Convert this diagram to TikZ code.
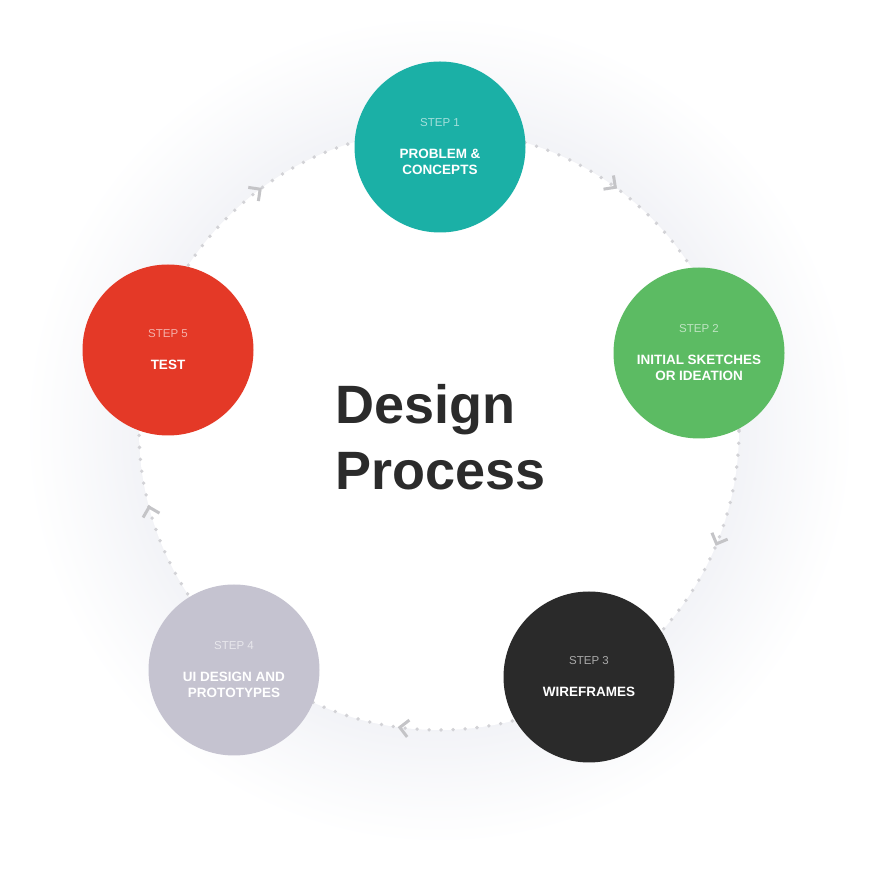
\documentclass[tikz,border=0pt]{standalone}
\usepackage{fontspec}
\setmainfont{Liberation Sans}
\usetikzlibrary{calc}

\definecolor{tealc}{RGB}{27,176,166}
\definecolor{greenc}{RGB}{92,187,99}
\definecolor{darkc}{RGB}{42,42,42}
\definecolor{lavc}{RGB}{197,195,208}
\definecolor{redc}{RGB}{228,57,39}
\definecolor{ink}{RGB}{43,43,43}
\definecolor{dotc}{RGB}{210,210,214}
\definecolor{chevc}{RGB}{196,196,199}
\definecolor{haloc}{RGB}{242,243,247}
\colorlet{haloa}{haloc!60!white}
\colorlet{halob}{haloc!25!white}

% 25bp is the edge of the shaded circle
\pgfdeclareradialshading{halo}{\pgfpoint{0bp}{0bp}}{color(0bp)=(white); color(17.8bp)=(white); color(17.9bp)=(haloc); color(20.5bp)=(haloa); color(23bp)=(halob); color(25bp)=(white); color(50bp)=(white)}

\newcommand\stepno[2]{{\fontsize{11.5}{14}\selectfont\mdseries\color{white!60!#1}STEP #2}}

\begin{document}
\begin{tikzpicture}[x=1pt,y=1pt,
    stepc/.style={circle,minimum size=171pt,inner sep=0pt,align=center,text=white,
      font=\fontsize{13.5}{16}\selectfont\bfseries},
    ring/.style={dotc,line width=3.8pt,line cap=round,dash pattern=on 0pt off 12pt},
    chev/.style={chevc,line width=3pt}]
    \useasboundingbox (0,0) rectangle (871,871);
    \fill[white] (0,0) rectangle (871,871);

    \coordinate (c) at (439,441);
    \shade[shading=halo] (c) circle[radius=415];
    \fill[white] (c) circle[radius=300];
    \draw[ring] (c) circle[radius=300];

    % arrow heads on the ring
    \foreach \a in {126.6,54,-22.3,-97.5,194.9}
        \draw[chev] ($(c)+(\a:300)+(\a+45:12)$) -- ($(c)+(\a:300)$) -- ++(\a+135:12);

    \node[stepc,fill=tealc] (s1) at (440,724) {\stepno{tealc}{1}\\[16pt]PROBLEM \&\\CONCEPTS};
    \node[stepc,fill=greenc] (s2) at (699,518) {\stepno{greenc}{2}\\[16pt]INITIAL SKETCHES\\OR IDEATION};
    \node[stepc,fill=darkc] (s3) at (589,194) {\stepno{darkc}{3}\\[16pt]WIREFRAMES};
    \node[stepc,fill=lavc] (s4) at (234,201) {\stepno{lavc}{4}\\[16pt]UI DESIGN AND\\PROTOTYPES};
    \node[stepc,fill=redc] (s5) at (168,521) {\stepno{redc}{5}\\[16pt]TEST};

    \node[anchor=base west,align=left,inner sep=0pt,text=ink,
      font=\fontsize{54}{66}\selectfont\bfseries] (dp) at (335,381) {Design\\Process};
\end{tikzpicture}
\end{document}
